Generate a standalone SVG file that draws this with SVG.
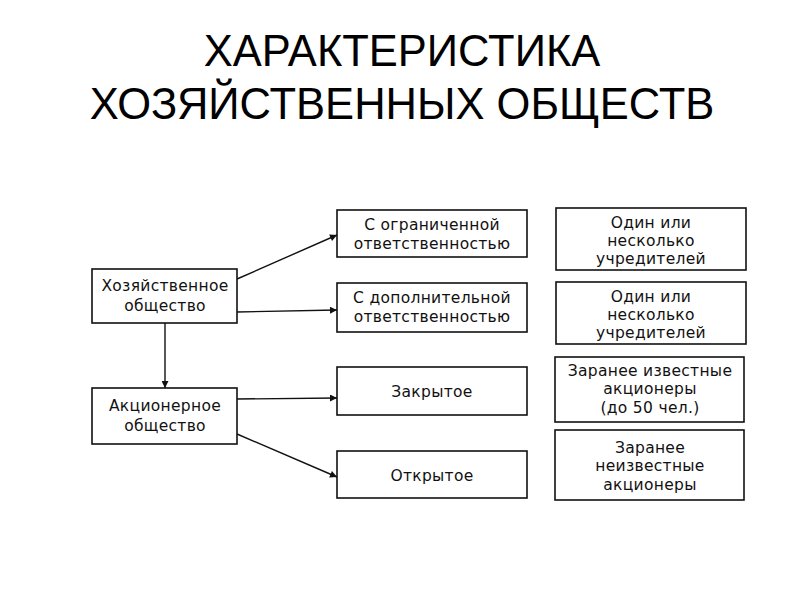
<svg xmlns="http://www.w3.org/2000/svg" width="800" height="600" viewBox="0 0 800 600">
<style>
.t{font-family:"Liberation Sans",Arial,sans-serif;font-size:43.5px;fill:#000;text-anchor:middle}
.b{fill:#fff;stroke:#111;stroke-width:1.6}
.l{font-family:"DejaVu Sans",Arial,sans-serif;font-size:15.5px;fill:#111;text-anchor:middle;letter-spacing:0.3px}
.c{stroke:#111;stroke-width:1.4;fill:none;marker-end:url(#a)}
</style>
<defs>
<marker id="a" viewBox="0 0 10 10" refX="10" refY="5" markerWidth="9" markerHeight="7" markerUnits="userSpaceOnUse" orient="auto">
<path d="M0,0 L10,5 L0,10 z" fill="#111"/>
</marker>
</defs>
<rect width="800" height="600" fill="#fff"/>
<text class="t" x="402" y="66">ХАРАКТЕРИСТИКА</text>
<text class="t" x="402" y="119">ХОЗЯЙСТВЕННЫХ ОБЩЕСТВ</text>
<g id="connectors">
<line class="c" x1="237" y1="279" x2="337" y2="235"/>
<line class="c" x1="237" y1="312" x2="337" y2="310"/>
<line class="c" x1="165" y1="323" x2="165" y2="388"/>
<line class="c" x1="237" y1="399" x2="337" y2="398"/>
<line class="c" x1="237" y1="434" x2="337" y2="477"/>
</g>
<g id="n1"><rect class="b" x="92" y="269" width="145" height="54"/><text class="l" x="165" y="291">Хозяйственное</text><text class="l" x="165" y="311">общество</text></g>
<g id="n2"><rect class="b" x="92" y="388" width="145" height="56"/><text class="l" x="165" y="411">Акционерное</text><text class="l" x="165" y="431">общество</text></g>
<g id="n3"><rect class="b" x="337" y="210" width="190" height="47"/><text class="l" x="432" y="230">С ограниченной</text><text class="l" x="432" y="249">ответственностью</text></g>
<g id="n4"><rect class="b" x="337" y="283" width="190" height="49"/><text class="l" x="432" y="303">С дополнительной</text><text class="l" x="432" y="322">ответственностью</text></g>
<g id="n5"><rect class="b" x="337" y="367" width="190" height="48"/><text class="l" x="432" y="397">Закрытое</text></g>
<g id="n6"><rect class="b" x="337" y="451" width="190" height="47"/><text class="l" x="432" y="481">Открытое</text></g>
<g id="n7"><rect class="b" x="556" y="208" width="190" height="62"/><text class="l" x="651" y="228">Один или</text><text class="l" x="651" y="246">несколько</text><text class="l" x="651" y="264">учредителей</text></g>
<g id="n8"><rect class="b" x="556" y="282" width="190" height="62"/><text class="l" x="651" y="302">Один или</text><text class="l" x="651" y="320">несколько</text><text class="l" x="651" y="338">учредителей</text></g>
<g id="n9"><rect class="b" x="555" y="357" width="189" height="65"/><text class="l" x="650" y="376">Заранее известные</text><text class="l" x="650" y="394">акционеры</text><text class="l" x="650" y="413">(до 50 чел.)</text></g>
<g id="n10"><rect class="b" x="555" y="430" width="189" height="70"/><text class="l" x="650" y="453">Заранее</text><text class="l" x="650" y="471">неизвестные</text><text class="l" x="650" y="490">акционеры</text></g>
</svg>
